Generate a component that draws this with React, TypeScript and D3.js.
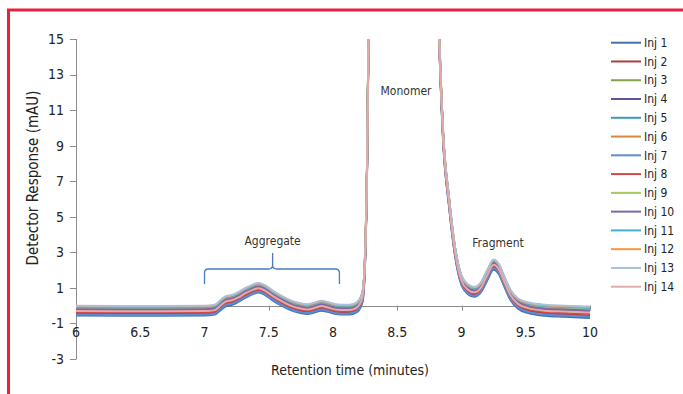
import React from "react";
import * as d3 from "d3";

const times = [6.0, 6.5, 7.0, 7.08, 7.13, 7.17, 7.21, 7.26, 7.32, 7.38, 7.42, 7.47, 7.53, 7.6, 7.67, 7.74, 7.8, 7.86, 7.91, 7.96, 8.02, 8.1, 8.16, 8.2, 8.23, 8.25, 8.265, 8.28, 8.4, 8.55, 8.7, 8.82, 8.856, 8.903, 8.95, 9.0, 9.05, 9.1, 9.15, 9.2, 9.25, 9.29, 9.33, 9.38, 9.44, 9.52, 9.65, 9.8, 10.0];

const inj1 = [-0.55, -0.57, -0.55, -0.5, -0.22, -0.02, 0.04, 0.2, 0.45, 0.66, 0.74, 0.61, 0.3, 0.0, -0.25, -0.4, -0.47, -0.37, -0.28, -0.35, -0.47, -0.5, -0.45, -0.28, 0.2, 2.5, 7.6, 17.5, 80, 120, 80, 16.5, 9.4, 5.6, 2.8, 1.15, 0.65, 0.5, 0.75, 1.42, 2.02, 1.78, 1.13, 0.33, -0.17, -0.42, -0.57, -0.63, -0.7];
const inj2 = [-0.42, -0.44, -0.42, -0.37, -0.08, 0.13, 0.18, 0.33, 0.58, 0.78, 0.86, 0.73, 0.43, 0.13, -0.12, -0.27, -0.34, -0.24, -0.14, -0.22, -0.34, -0.37, -0.32, -0.12, 0.38, 2.6, 7.7, 17.6, 80, 120, 80, 16.6, 9.5, 5.7, 2.9, 1.28, 0.78, 0.63, 0.88, 1.58, 2.18, 1.93, 1.28, 0.48, -0.02, -0.27, -0.42, -0.48, -0.55];
const inj3 = [-0.12, -0.14, -0.12, -0.07, 0.23, 0.43, 0.48, 0.63, 0.88, 1.08, 1.16, 1.03, 0.73, 0.43, 0.18, 0.03, -0.04, 0.06, 0.16, 0.08, -0.04, -0.07, -0.02, 0.18, 0.68, 2.9, 7.9, 17.9, 80, 120, 80, 16.9, 9.8, 6.0, 3.2, 1.58, 1.08, 0.93, 1.18, 1.88, 2.48, 2.23, 1.58, 0.78, 0.28, 0.05, -0.09, -0.14, -0.2];
const inj4 = [-0.24, -0.26, -0.24, -0.19, 0.11, 0.31, 0.36, 0.51, 0.76, 0.96, 1.04, 0.91, 0.61, 0.31, 0.06, -0.09, -0.16, -0.06, 0.04, -0.04, -0.16, -0.19, -0.14, 0.06, 0.56, 2.8, 7.8, 17.8, 80, 120, 80, 16.8, 9.7, 5.9, 3.1, 1.46, 0.96, 0.81, 1.06, 1.76, 2.36, 2.11, 1.46, 0.66, 0.16, -0.08, -0.22, -0.27, -0.33];
const inj5 = [-0.08, -0.1, -0.08, -0.03, 0.27, 0.47, 0.52, 0.67, 0.92, 1.12, 1.2, 1.07, 0.77, 0.47, 0.22, 0.07, 0.0, 0.1, 0.2, 0.12, 0.0, -0.03, 0.02, 0.22, 0.72, 2.9, 7.9, 17.9, 80, 120, 80, 16.9, 9.8, 6.0, 3.2, 1.62, 1.12, 0.97, 1.22, 1.92, 2.52, 2.27, 1.62, 0.82, 0.32, 0.1, -0.04, -0.09, -0.14];
const inj6 = [-0.05, -0.07, -0.05, 0.0, 0.3, 0.5, 0.55, 0.7, 0.95, 1.15, 1.23, 1.1, 0.8, 0.5, 0.25, 0.1, 0.03, 0.13, 0.23, 0.15, 0.03, 0.0, 0.05, 0.25, 0.75, 2.95, 8, 18, 80, 120, 80, 17, 9.9, 6.05, 3.25, 1.65, 1.15, 1.0, 1.25, 1.95, 2.55, 2.3, 1.65, 0.85, 0.35, 0.13, 0.0, -0.05, -0.1];
const inj7 = [-0.5, -0.52, -0.5, -0.45, -0.16, 0.05, 0.1, 0.25, 0.5, 0.7, 0.78, 0.65, 0.35, 0.05, -0.2, -0.35, -0.42, -0.32, -0.22, -0.3, -0.42, -0.45, -0.4, -0.2, 0.3, 2.5, 7.6, 17.5, 80, 120, 80, 16.5, 9.4, 5.6, 2.8, 1.2, 0.7, 0.55, 0.8, 1.5, 2.1, 1.85, 1.2, 0.4, -0.1, -0.35, -0.5, -0.56, -0.62];
const inj8 = [-0.36, -0.38, -0.36, -0.31, -0.01, 0.19, 0.24, 0.39, 0.64, 0.84, 0.92, 0.79, 0.49, 0.19, -0.06, -0.21, -0.28, -0.18, -0.08, -0.16, -0.28, -0.31, -0.26, -0.06, 0.44, 2.7, 7.7, 17.7, 80, 120, 80, 16.7, 9.6, 5.8, 3.0, 1.34, 0.84, 0.69, 0.94, 1.64, 2.24, 1.99, 1.34, 0.54, 0.04, -0.2, -0.35, -0.41, -0.47];
const inj9 = [-0.14, -0.16, -0.14, -0.09, 0.21, 0.41, 0.46, 0.61, 0.86, 1.06, 1.14, 1.01, 0.71, 0.41, 0.16, 0.01, -0.06, 0.04, 0.14, 0.06, -0.06, -0.09, -0.04, 0.16, 0.66, 2.9, 7.9, 17.9, 80, 120, 80, 16.9, 9.8, 6.0, 3.2, 1.56, 1.06, 0.91, 1.16, 1.86, 2.46, 2.21, 1.56, 0.76, 0.26, 0.03, -0.1, -0.15, -0.21];
const inj10 = [-0.2, -0.22, -0.2, -0.15, 0.15, 0.35, 0.4, 0.55, 0.8, 1.0, 1.08, 0.95, 0.65, 0.35, 0.1, -0.05, -0.12, -0.02, 0.08, 0.0, -0.12, -0.15, -0.1, 0.1, 0.6, 2.8, 7.8, 17.8, 80, 120, 80, 16.8, 9.7, 5.9, 3.1, 1.5, 1.0, 0.85, 1.1, 1.8, 2.4, 2.15, 1.5, 0.7, 0.2, -0.03, -0.17, -0.22, -0.28];
const inj11 = [-0.07, -0.09, -0.07, -0.02, 0.28, 0.48, 0.53, 0.68, 0.93, 1.13, 1.21, 1.08, 0.78, 0.48, 0.23, 0.08, 0.01, 0.11, 0.21, 0.13, 0.01, -0.02, 0.03, 0.23, 0.73, 2.93, 7.95, 17.95, 80, 120, 80, 16.95, 9.85, 6.03, 3.23, 1.63, 1.13, 0.98, 1.23, 1.93, 2.53, 2.28, 1.63, 0.83, 0.33, 0.11, -0.02, -0.07, -0.12];
const inj12 = [-0.03, -0.05, -0.03, 0.02, 0.32, 0.52, 0.57, 0.72, 0.97, 1.17, 1.25, 1.12, 0.82, 0.52, 0.27, 0.12, 0.05, 0.15, 0.25, 0.17, 0.05, 0.02, 0.07, 0.27, 0.77, 2.97, 8, 18, 80, 120, 80, 17, 9.9, 6.07, 3.27, 1.67, 1.17, 1.02, 1.27, 1.97, 2.57, 2.32, 1.67, 0.87, 0.37, 0.15, 0.02, -0.03, -0.08];
const inj13 = [0.0, -0.02, 0.0, 0.05, 0.35, 0.55, 0.6, 0.75, 1.0, 1.2, 1.28, 1.15, 0.85, 0.55, 0.3, 0.15, 0.08, 0.18, 0.28, 0.2, 0.08, 0.05, 0.1, 0.3, 0.8, 3.0, 8, 18, 80, 120, 80, 17, 9.9, 6.1, 3.3, 1.7, 1.2, 1.05, 1.3, 2.0, 2.6, 2.35, 1.7, 0.9, 0.4, 0.18, 0.05, 0.0, -0.05];
const inj14 = [-0.3, -0.32, -0.3, -0.25, 0.05, 0.25, 0.3, 0.45, 0.7, 0.9, 0.98, 0.85, 0.55, 0.25, 0.0, -0.15, -0.22, -0.12, -0.02, -0.1, -0.22, -0.25, -0.2, 0.0, 0.5, 2.7, 7.7, 17.7, 80, 120, 80, 16.7, 9.6, 5.8, 3.0, 1.4, 0.9, 0.75, 1.0, 1.7, 2.3, 2.05, 1.4, 0.6, 0.1, -0.14, -0.28, -0.33, -0.39];

const seriesNames = ["Inj 1", "Inj 2", "Inj 3", "Inj 4", "Inj 5", "Inj 6", "Inj 7", "Inj 8", "Inj 9", "Inj 10", "Inj 11", "Inj 12", "Inj 13", "Inj 14"];
const seriesValues = [inj1, inj2, inj3, inj4, inj5, inj6, inj7, inj8, inj9, inj10, inj11, inj12, inj13, inj14];
const seriesColors = ["#4470AA", "#A9403E", "#85A24A", "#6A4E8E", "#3C9BB4", "#D98839", "#5B8DD5", "#CF4A47", "#A3C863", "#8464A8", "#3FB1CB", "#F7963E", "#A9BFDD", "#E2ABAA"];

const xTicks = [6, 6.5, 7, 7.5, 8, 8.5, 9, 9.5, 10];
const yTicks = [15, 13, 11, 9, 7, 5, 3, 1, -1, -3];

const FONT = "'Liberation Sans Narrow', 'DejaVu Sans Condensed', 'Roboto Condensed', Arial, sans-serif";

export default function App() {
  const x = d3.scaleLinear().domain([6, 10]).range([76, 590]);
  const y = d3.scaleLinear().domain([-3, 15]).range([359, 39]);
  const line = d3
    .line<number>()
    .x((_, i) => x(times[i]))
    .y((d) => y(d))
    .curve(d3.curveMonotoneX);

  const braceY = 269;
  const bx0 = x(7.0);
  const bx1 = x(8.05);
  const bmid = x(7.53);

  return (
    <svg
      width={683}
      height={394}
      style={{ position: "absolute", left: 0, top: 0, background: "#fff" }}
      fontFamily={FONT}
    >
      <defs>
        <clipPath id="plot">
          <rect x={76} y={39} width={514} height={320} />
        </clipPath>
      </defs>
      <rect x={0} y={0} width={683} height={394} fill="#fff" />
      <rect x={8.5} y={10} width={720} height={420} fill="none" stroke="#E8203F" strokeWidth={3} />

      {/* y axis */}
      <line x1={76.5} x2={76.5} y1={y(15)} y2={y(-3)} stroke="#8c8c8c" strokeWidth={1} />
      {yTicks.map((t) => (
        <g key={t}>
          <line x1={70} x2={76.5} y1={Math.round(y(t)) + 0.5} y2={Math.round(y(t)) + 0.5} stroke="#8c8c8c" />
          <text x={64} y={y(t)} dy="0.35em" textAnchor="end" fontSize={14} fill="#222">
            {t}
          </text>
        </g>
      ))}
      {/* x axis at y=0 */}
      <line x1={76} x2={590} y1={Math.round(y(0)) + 0.5} y2={Math.round(y(0)) + 0.5} stroke="#8c8c8c" />
      {xTicks.map((t) => (
        <g key={t}>
          <line x1={Math.round(x(t)) + 0.5} x2={Math.round(x(t)) + 0.5} y1={y(0)} y2={y(0) + 5} stroke="#8c8c8c" />
          <text x={x(t)} y={337} textAnchor="middle" fontSize={14} fill="#222">
            {t}
          </text>
        </g>
      ))}

      <text
        transform={`translate(38, 178) rotate(-90)`}
        textAnchor="middle"
        fontSize={15}
        fill="#222"
      >
        Detector Response (mAU)
      </text>
      <text x={350} y={375} textAnchor="middle" fontSize={14} fill="#222">
        Retention time (minutes)
      </text>

      {/* series */}
      <g clipPath="url(#plot)">
        {seriesValues.map((vals, i) => (
          <path key={i} d={line(vals) || ""} fill="none" stroke={seriesColors[i]} strokeWidth={2} strokeLinejoin="round" />
        ))}
      </g>

      {/* annotations */}
      <path
        d={`M${bx0},${braceY + 15} L${bx0},${braceY + 4} Q${bx0},${braceY} ${bx0 + 4},${braceY} L${bmid - 4},${braceY} Q${bmid},${braceY} ${bmid},${braceY - 4} L${bmid},${braceY - 16} M${bmid},${braceY - 4} Q${bmid},${braceY} ${bmid + 4},${braceY} L${bx1 - 4},${braceY} Q${bx1},${braceY} ${bx1},${braceY + 4} L${bx1},${braceY + 15}`}
        fill="none"
        stroke="#4A7CBF"
        strokeWidth={1.3}
      />
      <text x={bmid} y={245} textAnchor="middle" fontSize={12} fill="#333">
        Aggregate
      </text>
      <text x={406} y={95} textAnchor="middle" fontSize={12} fill="#333">
        Monomer
      </text>
      <text x={498} y={247} textAnchor="middle" fontSize={12} fill="#333">
        Fragment
      </text>

      {/* legend */}
      {seriesNames.map((n, i) => {
        const ly = 42.7 + i * 18.77;
        return (
          <g key={n}>
            <line x1={611} x2={641} y1={ly} y2={ly} stroke={seriesColors[i]} strokeWidth={2} />
            <text x={644} y={ly} dy="0.35em" fontSize={12} fill="#222">
              {n}
            </text>
          </g>
        );
      })}
    </svg>
  );
}
